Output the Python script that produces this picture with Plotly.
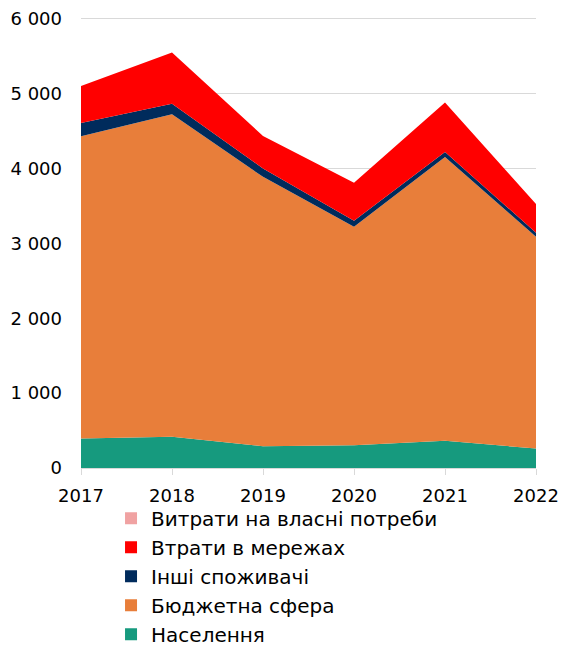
import plotly.graph_objects as go

years = [2017, 2018, 2019, 2020, 2021, 2022]
naselennia = [395, 416, 290, 304, 363, 260]
biudzhetna = [4038, 4311, 3601, 2920, 3794, 2831]
inshi = [178, 142, 112, 80, 67, 53]
vtraty = [493, 684, 434, 507, 659, 383]
vlasni = [0, 0, 0, 0, 0, 0]

series = [
    ("Населення", naselennia, "#169A7E"),
    ("Бюджетна сфера", biudzhetna, "#E87E3A"),
    ("Інші споживачі", inshi, "#002B5C"),
    ("Втрати в мережах", vtraty, "#FF0000"),
    ("Витрати на власні потреби", vlasni, "#F0A2A2"),
]

fig = go.Figure()
for name, vals, col in series:
    fig.add_trace(go.Scatter(
        x=years, y=vals, name=name, mode="lines",
        stackgroup="one", line=dict(width=0, color=col),
        fillcolor=col, showlegend=False,
    ))
# legend entries with square swatches
for name, vals, col in series:
    fig.add_trace(go.Bar(
        x=[None], y=[None], name=name, marker=dict(color=col, line=dict(width=0)),
        showlegend=True,
    ))

font = "DejaVu Sans"
fig.update_layout(
    width=561, height=648,
    margin=dict(l=81, r=25, t=16, b=180, autoexpand=False),
    paper_bgcolor="white", plot_bgcolor="white",
    separators=", ",
    font=dict(family=font, size=18, color="#000000"),
    showlegend=True,
    legend=dict(
        traceorder="reversed", orientation="v",
        x=0.066, xanchor="left", y=-0.068, yanchor="top",
        font=dict(size=20), itemwidth=30,
        bgcolor="rgba(0,0,0,0)",
    ),
    xaxis=dict(
        range=[2017, 2022], tickmode="array", tickvals=years,
        ticktext=[str(y) for y in years],
        showgrid=False, showline=True, linecolor="#D9D9D9", linewidth=1,
        ticks="outside", ticklen=6, tickcolor="#D9D9D9",
        tickfont=dict(size=18), zeroline=False, automargin=False,
        ticklabelstandoff=5,
    ),
    yaxis=dict(
        range=[0, 6040], tick0=0, dtick=1000, tickformat=",d",
        showgrid=True, gridcolor="#D9D9D9", gridwidth=1,
        showline=False, zeroline=False, ticks="",
        tickfont=dict(size=18), automargin=False, ticklabelstandoff=18,
    ),
)

fig.write_html(
    "out.html",
    config={"displayModeBar": False},
    post_script="document.body.style.margin='0';document.body.style.overflow='hidden';",
)
